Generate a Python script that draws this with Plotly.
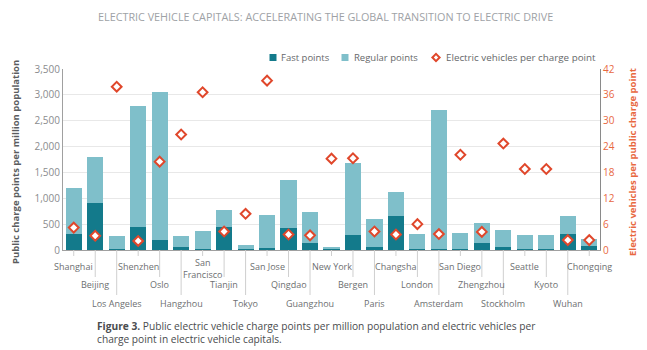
import plotly.graph_objects as go

cities = ["Shanghai", "Beijing", "Los Angeles", "Shenzhen", "Oslo", "Hangzhou",
          "San<br>Francisco", "Tianjin", "Tokyo", "San Jose", "Qingdao", "Guangzhou",
          "New York", "Bergen", "Paris", "Changsha", "London", "Amsterdam",
          "San Diego", "Zhengzhou", "Stockholm", "Seattle", "Kyoto", "Wuhan", "Chongqing"]
fast_points = [310, 900, 15, 445, 200, 65, 25, 445, 20, 45, 426, 129, 15, 290, 65,
               658, 15, 20, 10, 129, 58, 10, 10, 303, 84]
regular_points = [890, 900, 265, 2345, 2850, 210, 350, 330, 77, 625, 934, 606, 43, 1400, 530,
                  459, 295, 2680, 325, 401, 329, 274, 274, 349, 135]
ev_per_point = [5.2, 3.3, 37.9, 2.1, 20.5, 26.8, 36.6, 4.3, 8.4, 39.3, 3.6, 3.4, 21.2, 21.3, 4.3,
                3.6, 6.0, 3.7, 22.1, 4.2, 24.7, 18.8, 18.8, 2.3, 2.3]
left_ticks = [0, 500, 1000, 1500, 2000, 2500, 3000, 3500]
right_ticks = [0, 6, 12, 18, 24, 30, 36, 42]
legend_names = ["Fast points", "Regular points", "Electric vehicles per charge point"]

FONT = "Open Sans"
DARK = "#137a8b"
LIGHT = "#7fbfca"
RED = "#e0472b"
ORANGE = "#e8683f"

W, H = 647, 350
ML, MR, MT, MB = 63, 47, 69, 100
PW, PH = W - ML - MR, H - MT - MB


def px(xp):
    return (xp - ML) / PW


def py(yp):
    return (H - MB - yp) / PH


xs = list(range(len(cities)))

fig = go.Figure()
fig.add_trace(go.Bar(x=xs, y=fast_points, name=legend_names[0], marker_color=DARK,
                     marker_line_width=0))
fig.add_trace(go.Bar(x=xs, y=regular_points, name=legend_names[1], marker_color=LIGHT,
                     marker_line_width=0))
fig.add_trace(go.Scatter(x=xs, y=ev_per_point, name=legend_names[2],
                         mode="markers", yaxis="y2",
                         marker=dict(symbol="diamond", size=7.5, color="white",
                                     line=dict(color=RED, width=2))))

# staggered x labels with leader lines
row_label_y = [266, 284.5, 303]
row_line_y = [256, 277, 295]
annotations = []
shapes = []
for i, c in enumerate(cities):
    r = i % 3
    ly = row_label_y[r]
    if "<br>" in c:
        ly = 268.5
    annotations.append(dict(x=i, y=py(ly), xref="x", yref="paper", text=c, showarrow=False,
                            font=dict(family=FONT, size=9, color="#6d6f71"),
                            xanchor="center", yanchor="middle"))
    shapes.append(dict(type="line", xref="x", yref="paper", x0=i, x1=i, y0=0, y1=py(row_line_y[r]),
                       line=dict(color="#cfcfcf", width=1)))

# manual legend
LY = 57.5
shapes.append(dict(type="rect", xref="paper", yref="paper", x0=px(269.5), x1=px(276.5),
                   y0=py(LY - 3.5), y1=py(LY + 3.5), fillcolor=DARK, line_width=0))
shapes.append(dict(type="rect", xref="paper", yref="paper", x0=px(341.5), x1=px(348.5),
                   y0=py(LY - 3.5), y1=py(LY + 3.5), fillcolor=LIGHT, line_width=0))
dcx, dr = 436, 3.6
shapes.append(dict(type="path", xref="paper", yref="paper",
                   path=f"M {px(dcx - dr)} {py(LY)} L {px(dcx)} {py(LY - dr)} L {px(dcx + dr)} {py(LY)} L {px(dcx)} {py(LY + dr)} Z",
                   fillcolor="white", line=dict(color=RED, width=2)))
for name, tx, fs in zip(legend_names, [279, 352, 443.5], [9.5, 9.5, 9.8]):
    annotations.append(dict(x=px(tx), y=py(LY), xref="paper", yref="paper", text=name,
                            xanchor="left", yanchor="middle", showarrow=False,
                            font=dict(family=FONT, size=fs, color="#66686a")))

annotations += [
    dict(x=px(325), y=py(16.7), xref="paper", yref="paper", yanchor="middle", xanchor="center",
         text="ELECTRIC VEHICLE CAPITALS: ACCELERATING THE GLOBAL TRANSITION TO ELECTRIC DRIVE",
         showarrow=False, font=dict(family=FONT, size=10.8, color="#9ea2a6")),
    dict(x=px(15), y=py(162), xref="paper", yref="paper", xanchor="center", yanchor="middle",
         text="<b>Public charge points per million population</b>",
         textangle=-90, showarrow=False, font=dict(family=FONT, size=9.5, color="#5a5c5e")),
    dict(x=px(632), y=py(162), xref="paper", yref="paper", xanchor="center", yanchor="middle",
         text="<b>Electric vehicles per public charge point</b>",
         textangle=-90, showarrow=False, font=dict(family=FONT, size=9.5, color=ORANGE)),
    dict(x=px(95), y=py(332), xref="paper", yref="paper", xanchor="left", yanchor="middle",
         align="left",
         text="<b>Figure 3.</b> Public electric vehicle charge points per million population and electric vehicles per<br>charge point in electric vehicle capitals.",
         showarrow=False, font=dict(family=FONT, size=10.2, color="#4a4c4e")),
]

fig.update_layout(
    width=W, height=H,
    margin=dict(l=ML, r=MR, t=MT, b=MB),
    paper_bgcolor="white", plot_bgcolor="white",
    barmode="stack", bargap=0.25,
    font=dict(family=FONT),
    showlegend=False,
    xaxis=dict(range=[-0.5, len(cities) - 0.5], showticklabels=False, ticks="",
               showgrid=False, showline=True, linecolor="#a0a0a0", linewidth=1, zeroline=False),
    yaxis=dict(range=[0, 3500], tickvals=left_ticks, tickformat=",", showgrid=True,
               gridcolor="#e8e8e8", gridwidth=1, showline=True, linecolor="#a0a0a0",
               tickfont=dict(family=FONT, size=10, color="#8a8c8e"), zeroline=False,
               ticks="", automargin=False),
    yaxis2=dict(range=[0, 42], tickvals=right_ticks, overlaying="y", side="right",
                showgrid=False, showline=True, linecolor="#8a8a8a",
                tickfont=dict(family=FONT, size=10, color=ORANGE), zeroline=False,
                ticks="", automargin=False),
    annotations=annotations,
    shapes=shapes,
)

fig.write_html("out.html")
